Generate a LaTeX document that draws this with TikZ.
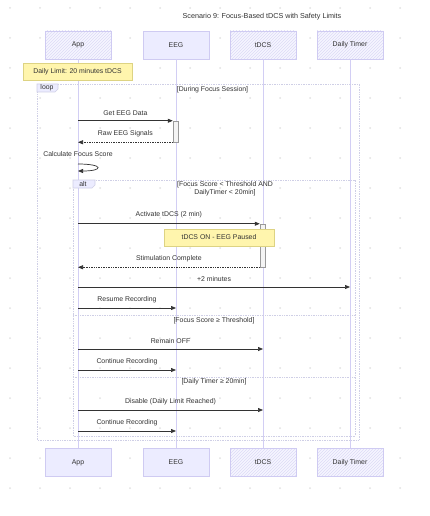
\documentclass[tikz,border=0pt]{standalone}
\usepackage{fontspec}
\setmainfont{Liberation Sans}
\usepackage{xcolor}
\usepackage{tikz}
\usetikzlibrary{calc,arrows.meta,positioning,patterns}
\definecolor{actfill}{HTML}{ECECFF}
\definecolor{actline}{HTML}{CFCBF2}
\definecolor{lifec}{HTML}{D2CEF4}
\definecolor{framec}{HTML}{CFCFE6}
\definecolor{notefill}{HTML}{FFF5AD}
\definecolor{notec}{HTML}{DDD383}
\definecolor{msgc}{HTML}{333333}
\definecolor{dotc}{HTML}{E2E2E2}
\definecolor{barfill}{HTML}{F4F4F4}
\tikzset{
  lbl/.style={font=\fontsize{6.9}{8}\selectfont,text=msgc,inner sep=1pt},
  actorbox/.style={draw=actline,minimum width=66pt,minimum height=28pt,lbl},
  plainbox/.style={actorbox,fill=actfill},
  hatchbox/.style={actorbox,preaction={fill=actfill!45},pattern=north east lines,pattern color=actline!70},
  lifeline/.style={lifec,line width=0.8pt},
  msg/.style={-{Triangle[length=5pt,width=4pt]},msgc,line width=0.7pt},
  reply/.style={msg,densely dotted},
  notebox/.style={draw=notec,fill=notefill,lbl,minimum height=17pt},
  actbar/.style={draw=gray!80,fill=barfill,line width=0.5pt,minimum width=5pt,inner sep=0pt},
  framebox/.style={draw=framec,densely dotted,line width=0.7pt},
  tab/.style={draw=framec,fill=actfill,line width=0.6pt},
  cond/.style={lbl,align=center}
}

\begin{document}
\begin{tikzpicture}[x=1pt,y=-1pt]
\useasboundingbox[fill=white] (0,0) rectangle (429,516);
% dotted background
\foreach \i in {0,...,13}{%
  \foreach \j in {0,...,16}{%
    \fill[dotc] ({10+30*\i},{8+30*\j}) circle (1pt);}}

\node[lbl,font=\fontsize{7.2}{8}\selectfont] (title) at (262,17) {Scenario 9: Focus-Based tDCS with Safety Limits};

% participants
\node[hatchbox] (appT) at (78,45) {App};
\node[plainbox] (eegT) at (176,45) {EEG};
\node[hatchbox] (tdcsT) at (263,45) {tDCS};
\node[hatchbox] (timerT) at (350,45) {Daily Timer};
\node[plainbox] (appB) at (78,462.5) {App};
\node[plainbox] (eegB) at (176,462.5) {EEG};
\node[hatchbox] (tdcsB) at (263,462.5) {tDCS};
\node[hatchbox] (timerB) at (350,462.5) {Daily Timer};
\foreach \p in {app,eeg,tdcs,timer}
  \draw[lifeline] (\p T.south) -- (\p B.north);

% message rows
\coordinate (r1) at (0,154);
\coordinate (r2) at (0,164);
\coordinate (r3) at (0,171);
\coordinate (r4) at (0,287);
\coordinate (r5) at (0,308);
\coordinate (r6) at (0,349);
\coordinate (r7) at (0,370);
\coordinate (r8) at (0,410);
\coordinate (r9) at (0,431);

% frames
\draw[framebox] (37,84) rectangle (359,440);
\draw[tab] (37,84) -- (58,84) -- (58,89) -- (55,92) -- (37,92) -- cycle;
\node[lbl] (looptag) at (47,88) {loop};
\node[cond] (loopcond) at (212.5,90) {[During Focus Session]};
\draw[framebox] (73,180) rectangle (355,436);
\draw[tab] (73,180) -- (95,180) -- (95,185) -- (92,188) -- (73,188) -- cycle;
\node[lbl] (alttag) at (83,184) {alt};
\node[cond] (altcond1) at (225,189) {[Focus Score < Threshold AND\\DailyTimer < 20min]};
\draw[framebox] (73,315) -- (355,315);
\node[cond] (altcond2) at (214,321) {[Focus Score ≥ Threshold]};
\draw[framebox] (73,377) -- (355,377);
\node[cond] (altcond3) at (214,382) {[Daily Timer ≥ 20min]};

\node[notebox,minimum width=109pt] (limit) at (77.5,72) {Daily Limit: 20 minutes tDCS};

% EEG read
\node[actbar,minimum height=21pt] (eegact) at (175.5,131.5) {};
\draw[msg] (appT |- eegact.north west) -- (eegact.north west)
  node[midway,above=4pt,lbl] {Get EEG Data};
\draw[reply] (eegact.south west) -- (appT |- eegact.south west)
  node[midway,above=4pt,lbl] {Raw EEG Signals};
\node[lbl] (calc) at (appT |- r1) {Calculate Focus Score};
\draw[msg] (appT |- r2) .. controls +(26,0) and +(26,0) .. (appT |- r3);

% stimulation
\node[actbar,minimum height=43pt] (tdcsact) at (262.5,245.5) {};
\draw[msg] (appT |- tdcsact.north west) -- (tdcsact.north west)
  node[midway,above=4pt,lbl] {Activate tDCS (2 min)};
\node[notebox,minimum width=110pt] (paused) at (219,237.5) {tDCS ON - EEG Paused};
\draw[reply] (tdcsact.south west) -- (appT |- tdcsact.south west)
  node[midway,above=4pt,lbl] {Stimulation Complete};
\draw[msg] (appT |- r4) -- (timerT |- r4) node[midway,above=4pt,lbl] {+2 minutes};
\draw[msg] (appT |- r5) -- (eegT |- r5) node[midway,above=4pt,lbl] {Resume Recording};

% above threshold
\draw[msg] (appT |- r6) -- (tdcsT |- r6) node[midway,above=4pt,lbl] {Remain OFF};
\draw[msg] (appT |- r7) -- (eegT |- r7) node[midway,above=4pt,lbl] {Continue Recording};

% limit reached
\draw[msg] (appT |- r8) -- (tdcsT |- r8) node[midway,above=4pt,lbl] {Disable (Daily Limit Reached)};
\draw[msg] (appT |- r9) -- (eegT |- r9) node[midway,above=4pt,lbl] {Continue Recording};
\end{tikzpicture}
\end{document}
